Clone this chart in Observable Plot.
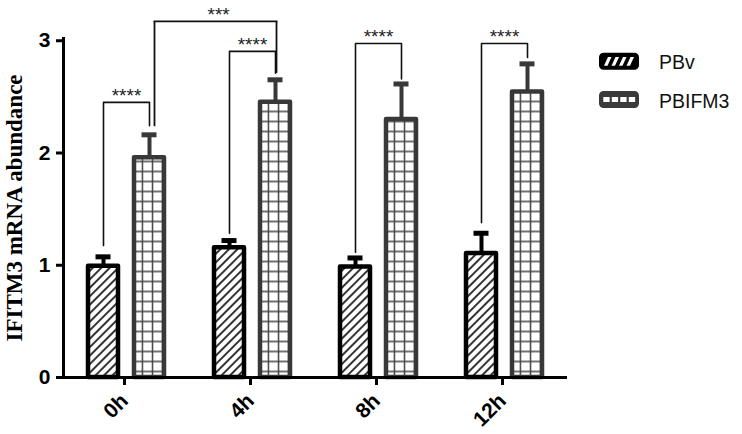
<!DOCTYPE html>
<html><head><meta charset="utf-8">
<script src="https://cdn.jsdelivr.net/npm/d3@7"></script>
<script src="https://cdn.jsdelivr.net/npm/@observablehq/plot@0.6"></script>
<style>
body{margin:0;background:#fff;}
#wrap{position:relative;width:742px;height:434px;overflow:hidden;background:#fff;}
#chart{position:absolute;left:0;top:0;}
#legend{position:absolute;left:0;top:0;}
</style></head><body>
<svg width="0" height="0" style="position:absolute">
<defs>
<pattern id="hatch" patternUnits="userSpaceOnUse" width="6" height="6" patternTransform="rotate(45)">
<rect width="6" height="6" fill="#fff"/>
<line x1="3" y1="0" x2="3" y2="6" stroke="#000" stroke-width="1.6"/>
</pattern>
<pattern id="grid" patternUnits="userSpaceOnUse" x="76.3" y="-3.5" width="10.17" height="10">
<rect width="10.17" height="10" fill="#fff"/>
<path d="M0,5H10.17M5.08,0V10" stroke="#444" stroke-width="1.5"/>
</pattern>
</defs>
</svg>
<div id="wrap"><div id="chart"></div><svg id="legend" width="742" height="434"></svg></div>
<script>
// ---- data ----
const times = ["0h", "4h", "8h", "12h"];
const seriesNames = ["PBv", "PBIFM3"];
const pbvMean = [0.99, 1.155, 0.985, 1.105];
const pbvErr = [0.085, 0.065, 0.08, 0.18];
const ifmMean = [1.957, 2.452, 2.298, 2.544];
const ifmErr = [0.205, 0.2, 0.317, 0.25];
const yTicks = [0, 1, 2, 3];
const yLabel = "IFITM3 mRNA abundance";

// significance brackets PBv vs PBIFM3 at each time point
const sigTimes = ["0h", "4h", "8h", "12h"];
const sigTop = [2.451, 2.905, 2.976, 2.976];
const sigLeftEnd = [1.175, 1.285, 1.115, 1.38];
const sigRightEnd = [2.243, 2.71, 2.659, 2.851];
const sigLabels = ["****", "****", "****", "****"];
// bracket PBIFM3 0h vs PBIFM3 4h
const crossFrom = "0h", crossTo = "4h";
const crossTop = 3.172, crossLeftEnd = 2.234, crossRightEnd = 2.709, crossLabel = "***";

// ---- tables ----
const bars = [];
times.forEach((t, i) => {
  bars.push({time: t, series: "PBv", value: pbvMean[i], err: pbvErr[i]});
  bars.push({time: t, series: "PBIFM3", value: ifmMean[i], err: ifmErr[i]});
});
const fillOf = {PBv: "url(#hatch)", PBIFM3: "url(#grid)"};
const strokeOf = {PBv: "#000", PBIFM3: "#383838"};
const brackets = sigTimes.flatMap((t, i) => [
  {id: i, time: t, series: "PBv", y: sigLeftEnd[i]},
  {id: i, time: t, series: "PBv", y: sigTop[i]},
  {id: i, time: t, series: "PBIFM3", y: sigTop[i]},
  {id: i, time: t, series: "PBIFM3", y: sigRightEnd[i]}
]);
const sigText = sigTimes.map((t, i) => ({time: t, y: sigTop[i], label: sigLabels[i]}));

const sans = "'Liberation Sans', Arial, sans-serif";
const chart = Plot.plot({
  width: 742, height: 434,
  marginLeft: 63, marginRight: 175, marginTop: 38, marginBottom: 57,
  fx: {domain: times, padding: 0, label: null},
  x: {domain: seriesNames, paddingInner: 0.351, paddingOuter: 0.516, axis: null},
  y: {domain: [0, 3.02]},
  style: {fontFamily: sans, color: "#000", background: "#fff", overflow: "visible"},
  marks: [
    Plot.axisY({ticks: yTicks, tickFormat: d3.format("d"), tickSize: 7, tickPadding: 6, strokeWidth: 3, fontSize: 21, fontWeight: "bold", label: null}),
    Plot.axisFx({anchor: "bottom", tickSize: 8, tickPadding: 12, strokeWidth: 3, tickRotate: -45, fontSize: 21, fontWeight: "bold", label: null, dx: -2}),
    Plot.text([yLabel], {text: d => d, frameAnchor: "left", textAnchor: "middle", rotate: -90, dx: -49, fontSize: 23, fontWeight: "bold", fontFamily: "'Liberation Serif', 'Times New Roman', serif", facetAnchor: "left"}),
    // error bar stems and caps
    Plot.ruleX(bars, {fx: "time", x: "series", y1: "value", y2: d => d.value + d.err, stroke: d => strokeOf[d.series], strokeWidth: 4}),
    Plot.tickY(bars, {fx: "time", x: "series", y: d => d.value + d.err, stroke: d => strokeOf[d.series], strokeWidth: 5, insetLeft: 7.5, insetRight: 7.5}),
    // bars
    Plot.barY(bars, {fx: "time", x: "series", y: "value", fill: d => fillOf[d.series], stroke: d => strokeOf[d.series], strokeWidth: 4.5, strokeLinejoin: "round"}),
    // axes lines
    Plot.ruleY([0], {strokeWidth: 3}),
    Plot.frame({anchor: "left", facetAnchor: "left", strokeWidth: 3}),
    // significance brackets
    Plot.line(brackets, {fx: "time", x: "series", y: "y", z: "id", stroke: "#111", strokeWidth: 1.6}),
    Plot.text(sigText, {fx: "time", y: "y", text: "label", lineAnchor: "bottom", dy: 0, fontSize: 19, fill: "#222"}),
    Plot.ruleX([{time: crossFrom, series: "PBIFM3", y1: crossLeftEnd, y2: crossTop}], {fx: "time", x: "series", y1: "y1", y2: "y2", dx: 5, stroke: "#111", strokeWidth: 1.8}),
    Plot.ruleX([{time: crossTo, series: "PBIFM3", y1: crossRightEnd, y2: crossTop}], {fx: "time", x: "series", y1: "y1", y2: "y2", dx: 1, stroke: "#111", strokeWidth: 1.8}),
    Plot.ruleY([{time: crossFrom, y: crossTop}], {fx: "time", y: "y", insetLeft: 90.6, stroke: "#111", strokeWidth: 1.8}),
    Plot.ruleY([{time: crossTo, y: crossTop}], {fx: "time", y: "y", insetRight: 37.6, stroke: "#111", strokeWidth: 1.8}),
    Plot.text([{time: crossTo, y: crossTop, label: crossLabel}], {fx: "time", y: "y", text: "label", frameAnchor: "left", dx: 18, lineAnchor: "bottom", dy: 0, fontSize: 19, fill: "#222"})
  ]
});
document.getElementById("chart").appendChild(chart);

// ---- legend ----
const lg = d3.select("#legend");
seriesNames.forEach((s, i) => {
  const y0 = 52.7 + i * 38.3;
  const g = lg.append("g");
  const col = s === "PBv" ? "#000" : "#3a3a3a";
  g.append("rect").attr("x", 601).attr("y", y0 + 2).attr("width", 36).attr("height", 13)
    .attr("rx", 2.5).attr("fill", col).attr("stroke", col).attr("stroke-width", 4);
  for (let k = 0; k < 4; k++) {
    if (s === "PBv") {
      const x0 = 604 + 7.5 * k;
      g.append("polygon").attr("points", `${x0},${y0 + 13} ${x0 + 3.5},${y0 + 13} ${x0 + 7.5},${y0 + 4.3} ${x0 + 4},${y0 + 4.3}`).attr("fill", "#fff");
    } else {
      g.append("rect").attr("x", 603.3 + 8.5 * k).attr("y", y0 + 6).attr("width", 6.3).attr("height", 5).attr("fill", "#fff");
    }
  }
  g.append("text").attr("x", 659).attr("y", y0 + 16.6).attr("font-family", sans)
    .attr("font-size", 19.5).attr("fill", "#111").text(s);
});
</script>
</body></html>
